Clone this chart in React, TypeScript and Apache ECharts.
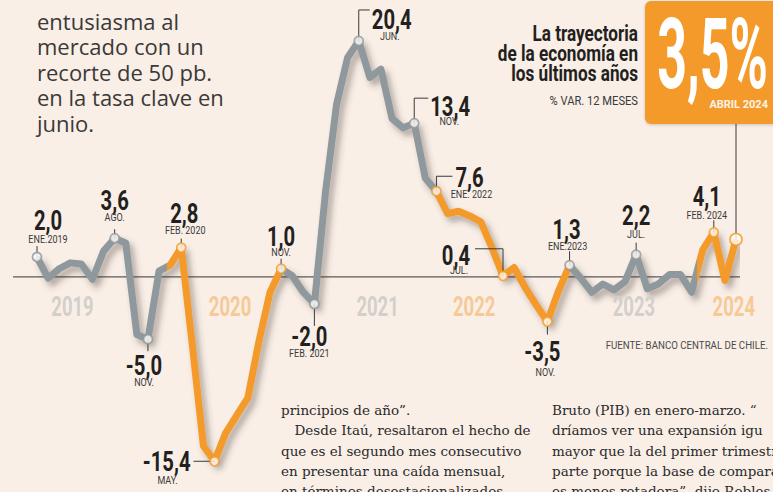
import React, { useEffect, useRef } from 'react';
import * as echarts from 'echarts';

// Imacec, % variación 12 meses, enero 2019 (índice 0) a abril 2024 (índice 63)
const imacec = [
  2.0, 0.2, 1.0, 1.5, 1.4, 0.1, 2.5, 3.6, 3.2, -4.6, -5.0, 0.8,
  1.3, 2.8, -5.5, -14.1, -15.4, -13.0, -11.5, -10.0, -5.2, -1.0, 1.0, 0.4,
  -1.0, -2.0, 7.5, 15.0, 19.0, 20.4, 17.3, 18.0, 13.8, 13.0, 13.4, 8.7,
  7.6, 5.7, 5.9, 5.5, 5.0, 2.8, 0.4, 1.1, -0.6, -2.1, -3.5, -0.9,
  1.3, 0.2, -1.0, -0.3, -0.8, -0.1, 2.2, -0.7, -0.3, 0.5, 0.5, -1.0,
  2.6, 4.1, 0.0, 3.5,
];

const highlightIndex = [0, 7, 10, 13, 16, 22, 25, 29, 34, 36, 42, 46, 48, 54, 61, 63];
const highlightMonth = [
  'ENE.2019', 'AGO.', 'NOV.', 'FEB. 2020', 'MAY.', 'NOV.', 'FEB. 2021', 'JUN.',
  'NOV.', 'ENE. 2022', 'JUL.', 'NOV.', 'ENE.2023', 'JUL.', 'FEB. 2024', 'ABRIL 2024',
];

const yearLabels = ['2019', '2020', '2021', '2022', '2023', '2024'];

const titleLines = ['La trayectoria', 'de la economía en', 'los últimos años'];
const subtitle = '% VAR. 12 MESES';
const sourceText = 'FUENTE: BANCO CENTRAL DE CHILE.';

const introLines = ['entusiasma al', 'mercado con un', 'recorte de 50 pb.', 'en la tasa clave en', 'junio.'];
const articleCol1 = [
  'principios de año”.',
  '\u2003Desde Itaú, resaltaron el hecho de',
  'que es el segundo mes consecutivo',
  'en presentar una caída mensual,',
  'en términos desestacionalizados,',
];
const articleCol2 = [
  'Bruto (PIB) en enero-marzo. “',
  'dríamos ver una expansión igu',
  'mayor que la del primer trimestre',
  'parte porque la base de comparac',
  'es menos retadora”, dijo Robles',
];

// ---- styles / layout ----
const BG = '#f9efe7';
const GRAY = '#8f989d';
const ORANGE = '#f39a2c';
const YEAR_GRAY = '#d3cfcb';
const YEAR_ORANGE = '#f6c996';
const INK = '#231f20';

const pieces = [
  { lt: 11.7, color: GRAY },
  { gte: 11.7, lte: 22, color: ORANGE },
  { gt: 22, lt: 36, color: GRAY },
  { gte: 36, lt: 48, color: ORANGE },
  { gte: 48, lt: 59.5, color: GRAY },
  { gte: 59.5, color: ORANGE },
];
const pieceColor = (x: number) => {
  for (const p of pieces as any[]) {
    if ((p.lt === undefined || x < p.lt) && (p.lte === undefined || x <= p.lte) &&
        (p.gt === undefined || x > p.gt) && (p.gte === undefined || x >= p.gte)) return p.color;
  }
  return GRAY;
};

const yearPos = [3.2, 17.4, 30.7, 39.4, 53.8, 62.8];
const yearColor = [YEAR_GRAY, YEAR_ORANGE, YEAR_GRAY, YEAR_ORANGE, YEAR_GRAY, YEAR_ORANGE];

const LAYOUT: Record<number, any> = {
  0: { kind: 'up', lead: 11, ndx: 11, mdx: 11, ndy: -36, mdy: -18 },
  7: { kind: 'up', lead: 9, ndx: 0, mdx: 0, ndy: -37, mdy: -21 },
  10: { kind: 'down', lead: 12, ndx: -4, mdx: -4, ndy: 27, mdy: 43 },
  13: { kind: 'up', lead: 9, ndx: 3, mdx: 4, ndy: -34, mdy: -17 },
  16: { kind: 'left', side: 21, ndx: -24, ndy: 1, mdx: -47, mdy: 19 },
  22: { kind: 'up', lead: 10, ndx: 0, mdx: 0, ndy: -32, mdy: -17 },
  25: { kind: 'down', lead: 22, ndx: -5, mdx: -5, ndy: 33, mdy: 49 },
  29: { kind: 'elbowR', up: 31, side: 11, ndx: 13, ndy: -21.5, mdx: 31, mdy: -4.5 },
  34: { kind: 'elbowR', up: 25, side: 14, ndx: 16, ndy: -16, mdx: 35, mdy: -2 },
  36: { kind: 'elbowR', up: 15, side: 16, ndx: 19, ndy: -13, mdx: 35, mdy: 3 },
  42: { kind: 'elbowL', up: 27, side: 28, ndx: -33, ndy: -20, mdx: -44, mdy: -6 },
  46: { kind: 'down', lead: 13, ndx: -5, mdx: -2, ndy: 30, mdy: 51 },
  48: { kind: 'up', lead: 14, ndx: -3, mdx: -2, ndy: -35, mdy: -19 },
  54: { kind: 'up', lead: 12, ndx: 0, mdx: 0, ndy: -39, mdy: -20 },
  61: { kind: 'up', lead: 12, ndx: -7, mdx: -7, ndy: -35, mdy: -17 },
  63: { kind: 'box' },
};

const txt = (text: string, x: number, y: number, o: any) => ({
  type: 'text',
  x,
  y,
  z: 6,
  silent: true,
  scaleX: o.sx ?? 1,
  scaleY: o.sy ?? 1,
  style: {
    text,
    fill: o.fill ?? INK,
    font: o.font,
    lineHeight: o.lh,
    textAlign: o.align ?? 'center',
    textVerticalAlign: 'middle',
  },
});

const NUM_FONT = 'bold 27px Roboto';
const MONTH_FONT = '11px Roboto';

export default function App() {
  const ref = useRef<HTMLDivElement>(null);

  useEffect(() => {
    const el = ref.current!;
    const chart = echarts.init(el, null, { renderer: 'svg' });
    // y scale: 11.74 px per point, value 0 at y = 280.5
    chart.setOption({
      animation: false,
      backgroundColor: BG,
      grid: { left: 37, top: 22.2, width: 699, height: 469.6 },
      xAxis: { type: 'value', min: 0, max: 63, show: false },
      yAxis: { type: 'value', min: -18, max: 22, show: false },
      visualMap: {
        type: 'piecewise',
        show: false,
        dimension: 0,
        seriesIndex: 0,
        pieces,
      },
      series: [
        {
          type: 'line',
          z: 2,
          data: imacec.map((v, i) => [i, v]),
          symbol: 'none',
          lineStyle: {
            width: 7,
            join: 'round',
            shadowColor: 'rgba(70,55,45,0.4)',
            shadowBlur: 6,
            shadowOffsetX: 4,
            shadowOffsetY: 5,
          },
        },
        {
          type: 'scatter',
          z: 4,
          data: highlightIndex.map((i, k) => ({
            value: [i, imacec[i]],
            symbolSize: k === highlightIndex.length - 1 ? 12 : 9,
            itemStyle: { color: '#fffdf8', borderColor: pieceColor(i), borderWidth: 1.8 },
          })),
        },
      ],
    });

    const toPx = (i: number, v: number) => chart.convertToPixel({ gridIndex: 0 }, [i, v]) as number[];
    const baseY = toPx(0, 0.3)[1];
    const g: any[] = [];
    const stroke = { stroke: '#3a3a3a', lineWidth: 1, fill: 'none' };

    // base line
    g.push({ type: 'line', z: 0, silent: true, shape: { x1: 13, y1: baseY, x2: 740, y2: baseY }, style: { stroke: '#5a5a5a', lineWidth: 1.2 } });

    // year labels
    yearLabels.forEach((yr, k) => {
      const x = toPx(yearPos[k], 0)[0];
      g.push(txt(yr, x, baseY + 30, { font: 'bold 28px Roboto', sx: 0.66, fill: yearColor[k] }));
    });

    // orange box
    g.push({ type: 'rect', z: 5, silent: true, shape: { x: 645, y: 1, width: 150, height: 123, r: 6 }, style: { fill: ORANGE, shadowColor: 'rgba(0,0,0,0.18)', shadowBlur: 3, shadowOffsetY: 1 } });

    // annotations
    highlightIndex.forEach((i, k) => {
      const v = imacec[i];
      const [x, y] = toPx(i, v);
      const L = LAYOUT[i];
      const num = v.toFixed(1).replace('.', ',');
      const month = highlightMonth[k];
      if (L.kind === 'box') {
        g.push({ type: 'line', z: 3, silent: true, shape: { x1: x, y1: y, x2: x, y2: 124 }, style: { stroke: '#3a3a3a', lineWidth: 1 } });
        g.push(txt(num + '%', 768, 54, { font: 'bold 98px Roboto', sx: 0.53, fill: '#ffffff', align: 'right' }));
        g.push(txt(month, 768, 104, { font: 'bold 11px Roboto', fill: '#fff3e6', align: 'right' }));
        return;
      }
      let pts: number[][] = [];
      let nalign = 'center';
      if (L.kind === 'up') pts = [[x, y], [x, y - L.lead]];
      if (L.kind === 'down') pts = [[x, y], [x, y + L.lead]];
      if (L.kind === 'left') { pts = [[x, y], [x - L.side, y]]; nalign = 'right'; }
      if (L.kind === 'elbowR') { pts = [[x, y], [x, y - L.up], [x + L.side, y - L.up]]; nalign = 'left'; }
      if (L.kind === 'elbowL') { pts = [[x, y], [x, y - L.up], [x - L.side, y - L.up]]; nalign = 'right'; }
      g.push({ type: 'polyline', z: 3, silent: true, shape: { points: pts }, style: stroke });
      g.push(txt(num, x + L.ndx, y + L.ndy, { font: NUM_FONT, sx: 0.75, align: nalign }));
      g.push(txt(month, x + L.mdx, y + L.mdy, { font: MONTH_FONT, sx: 0.82, fill: '#3a3a3a' }));
    });

    // title block
    g.push(txt(titleLines.join('\n'), 638, 53.5, { font: 'bold 22px Roboto', sx: 0.78, align: 'right', lh: 20 }));
    g.push(txt(subtitle, 638, 101, { font: '12px Roboto', sx: 0.93, fill: '#3a3a3a', align: 'right' }));
    g.push(txt(sourceText, 768, 345, { font: '10px Roboto', sx: 0.97, fill: '#4a4a4a', align: 'right' }));

    // intro text (upper left)
    g.push(txt(introLines.join('\n'), 37, 20.5 + 2 * 25.5, { font: '22px "Open Sans"', fill: '#3b3938', align: 'left', lh: 25.5 }));

    // article columns
    g.push(txt(articleCol1.join('\n'), 281, 410 + 2 * 20.3, { font: '13.5px "DejaVu Serif"', fill: '#2a2a2a', align: 'left', lh: 20.3 }));
    g.push(txt(articleCol2.join('\n'), 552, 410 + 2 * 20.3, { font: '13.5px "DejaVu Serif"', fill: '#2a2a2a', align: 'left', lh: 20.3 }));

    chart.setOption({ graphic: g });
    return () => chart.dispose();
  }, []);

  return (
    <div
      ref={ref}
      style={{ position: 'fixed', left: 0, top: 0, width: 773, height: 492, overflow: 'hidden', background: BG }}
    />
  );
}
